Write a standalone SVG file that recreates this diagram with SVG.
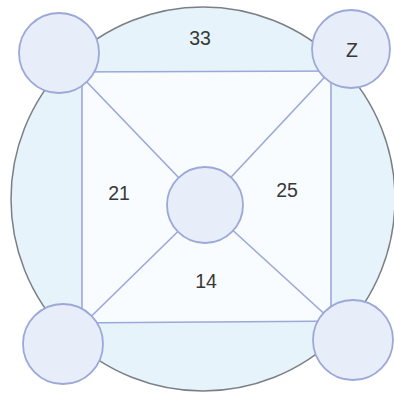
<svg xmlns="http://www.w3.org/2000/svg" width="394" height="398" viewBox="0 0 394 398">
<style>
.bg{fill:#e6f3fa;stroke:#7a7f86;stroke-width:1.5}
.sq{fill:#f8fcfe;stroke:none}
.edge{stroke:#9ca8d8;stroke-width:1.6;fill:none}
.node{fill:#e8eef9;stroke:#9ca8d8;stroke-width:1.8}
.lbl{font-family:"Liberation Sans",Arial,sans-serif;font-size:19.5px;fill:#383838;text-anchor:middle}
</style>
<rect width="394" height="398" fill="#ffffff"/>
<circle class="bg" cx="203" cy="199" r="192"/>
<polygon class="sq" points="82,72 331,71 331,321 82,323"/>
<g id="connectors">
<line class="edge" x1="59" y1="72" x2="351" y2="71"/>
<line class="edge" x1="82" y1="53" x2="82" y2="344"/>
<line class="edge" x1="63" y1="323" x2="353" y2="321"/>
<line class="edge" x1="331" y1="49" x2="331" y2="340"/>
<line class="edge" x1="59" y1="53" x2="205" y2="205"/>
<line class="edge" x1="351" y1="49" x2="205" y2="205"/>
<line class="edge" x1="63" y1="344" x2="205" y2="205"/>
<line class="edge" x1="353" y1="340" x2="205" y2="205"/>
</g>
<g id="node-tl"><circle class="node" cx="59" cy="53" r="40"/></g>
<g id="node-z"><circle class="node" cx="351" cy="49" r="39"/><text class="lbl" x="352" y="57" font-size="20">Z</text></g>
<g id="node-bl"><circle class="node" cx="63" cy="344" r="40"/></g>
<g id="node-br"><circle class="node" cx="353" cy="340" r="40"/></g>
<g id="node-c"><circle class="node" cx="205" cy="205" r="38"/></g>
<g id="labels">
<text class="lbl" x="200" y="45">33</text>
<text class="lbl" x="119" y="200">21</text>
<text class="lbl" x="287" y="197">25</text>
<text class="lbl" x="206" y="288">14</text>
</g>
</svg>
